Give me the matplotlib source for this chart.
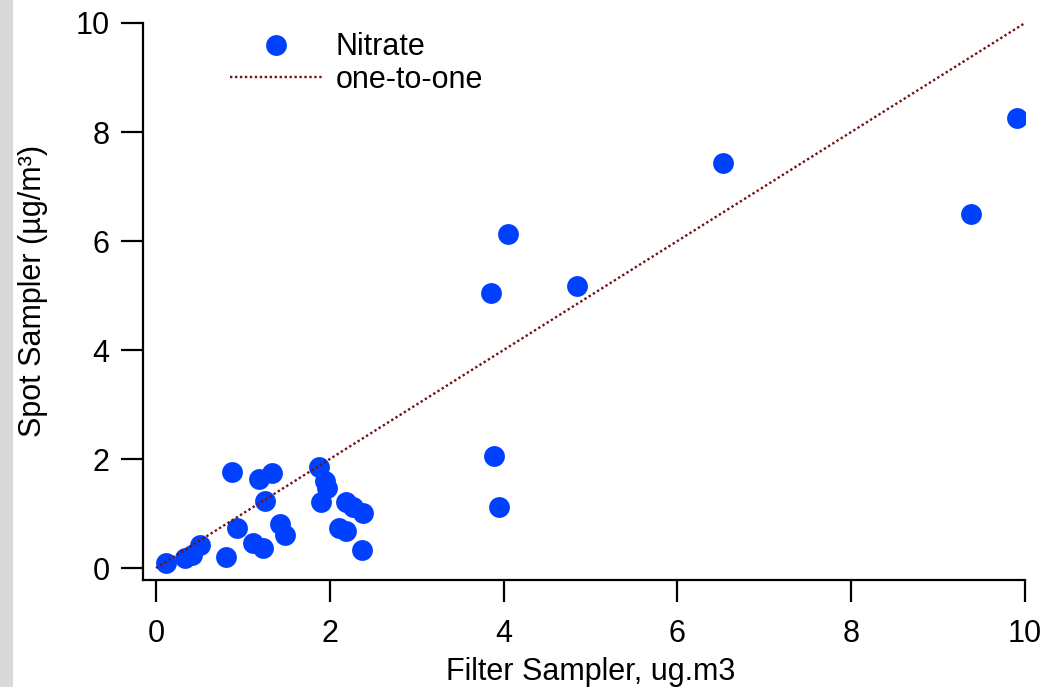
import matplotlib
matplotlib.use("Agg")
import matplotlib.pyplot as plt
from matplotlib.patches import Rectangle

plt.rcParams['font.family'] = ['Liberation Sans', 'DejaVu Sans']

filter_x = [0.12, 0.33, 0.41, 0.51, 0.81, 0.87, 0.93, 1.12, 1.23, 1.19, 1.33, 1.25,
            1.43, 1.48, 1.87, 1.95, 1.97, 1.90, 2.19, 2.27, 2.38, 2.11, 2.19, 2.37,
            3.89, 3.95, 3.86, 4.05, 4.84, 6.52, 9.38, 9.91]
spot_y = [0.09, 0.18, 0.24, 0.42, 0.21, 1.77, 0.73, 0.45, 0.37, 1.63, 1.75, 1.23,
          0.80, 0.61, 1.86, 1.59, 1.46, 1.22, 1.22, 1.12, 1.01, 0.73, 0.67, 0.33,
          2.06, 1.12, 5.04, 6.12, 5.18, 7.44, 6.49, 8.25]
one_to_one = [0, 10]
x_ticks = [0, 2, 4, 6, 8, 10]
y_ticks = [0, 2, 4, 6, 8, 10]

FS = 22

fig = plt.figure(figsize=(10.58, 6.87), dpi=100)
fig.patches.append(Rectangle((0, 0), 13 / 1058, 1, transform=fig.transFigure,
                             facecolor='#d9d9d9', edgecolor='none', zorder=0))
ax = fig.add_axes([143 / 1058, 1 - 580 / 687, (1025 - 143) / 1058, (580 - 23) / 687])

ax.plot(filter_x, spot_y, 'o', color='#0040ff', markersize=15, markeredgewidth=0,
        label='Nitrate', zorder=3)
ax.plot(one_to_one, one_to_one, linestyle=(0, (1, 1.1)), color='#761010', linewidth=1.7,
        label='one-to-one', zorder=4)

ax.set_xlim(-0.15, 10)
ax.set_ylim(-0.22, 10)
ax.set_xticks(x_ticks)
ax.set_yticks(y_ticks)
ax.spines['top'].set_visible(False)
ax.spines['right'].set_visible(False)
for s in ('left', 'bottom'):
    ax.spines[s].set_linewidth(1.6)
ax.tick_params(axis='both', direction='out', length=16, width=1.6, labelsize=FS)
ax.tick_params(axis='y', pad=8)
ax.tick_params(axis='x', pad=12)

ax.set_xlabel('Filter Sampler, ug.m3', fontsize=FS, labelpad=6)
ax.set_ylabel('Spot Sampler (µg/m³)', fontsize=FS, labelpad=20)
ax.xaxis.label.set_x(0.508)
ax.yaxis.label.set_y(0.519)

leg = ax.legend(loc='upper left', bbox_to_anchor=(0.085, 1.005), frameon=False, fontsize=FS,
                handlelength=3.0, handletextpad=0.45, labelspacing=0.08, borderaxespad=0)

fig.savefig('out.png', dpi=100)
